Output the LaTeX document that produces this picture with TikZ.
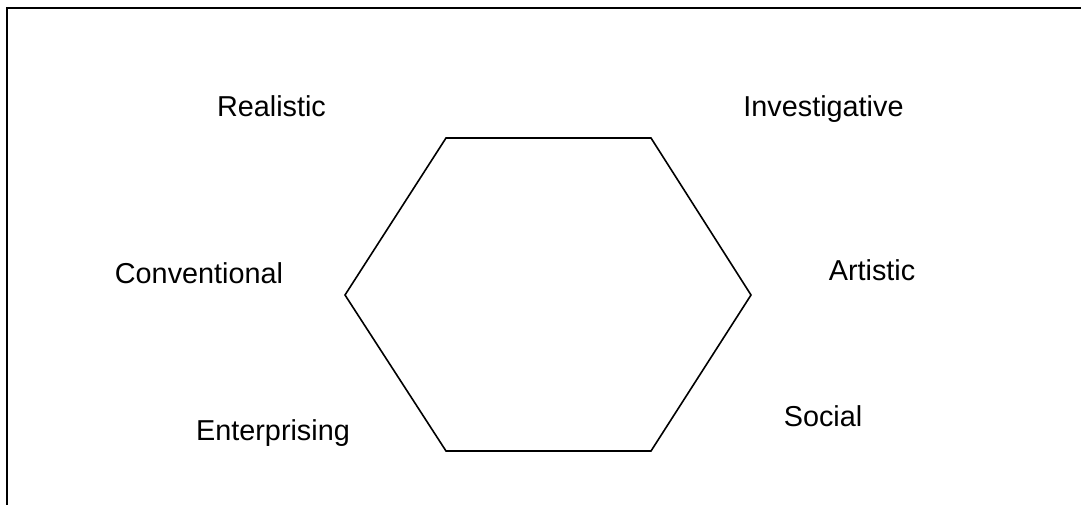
\documentclass[tikz,border=0pt]{standalone}
\usepackage{fontspec}
\setmainfont{Liberation Sans}
\usepackage{xcolor}
\usepackage{tikz}
\usetikzlibrary{positioning, calc}
\definecolor{dark}{HTML}{000000}
\tikzset{
    typelab/.style={
        font=\fontsize{28.8}{32}\selectfont, text=dark, anchor=base,
        inner sep=0pt
    },
    framerule/.style={
        draw=dark, line width=2pt, line cap=rect
    },
    hexline/.style={
        draw=dark, line width=1.6pt, line join=miter
    },
}
\begin{document}
\begin{tikzpicture}[x=1pt, y=-1pt]
    \useasboundingbox (0,0) rectangle (1081,505);

    % Frame (top and left edges)
    \coordinate (frametl) at (7,8);
    \coordinate (frametr) at (1081,8);
    \coordinate (framebl) at (7,505);
    \draw[framerule] (framebl) -- (frametl) -- (frametr);

    % Hexagon corners
    \coordinate (hexnw) at (446,138);
    \coordinate (hexne) at (651,138);
    \coordinate (hexe) at (751,295);
    \coordinate (hexse) at (651,451);
    \coordinate (hexsw) at (446,451);
    \coordinate (hexw) at (345,295);
    \draw[hexline] (hexnw) -- (hexne) -- (hexe) -- (hexse) -- (hexsw) -- (hexw) -- cycle;

    % Type labels
    \node[typelab] (real) at (271.5,117) {Realistic};
    \node[typelab] (inv) at (823.5,117) {Investigative};
    \node[typelab] (conv) at (199,283) {Conventional};
    \node[typelab] (art) at (872,280) {Artistic};
    \node[typelab] (ent) at (273,440) {Enterprising};
    \node[typelab] (soc) at (823,426) {Social};

\end{tikzpicture}
\end{document}
